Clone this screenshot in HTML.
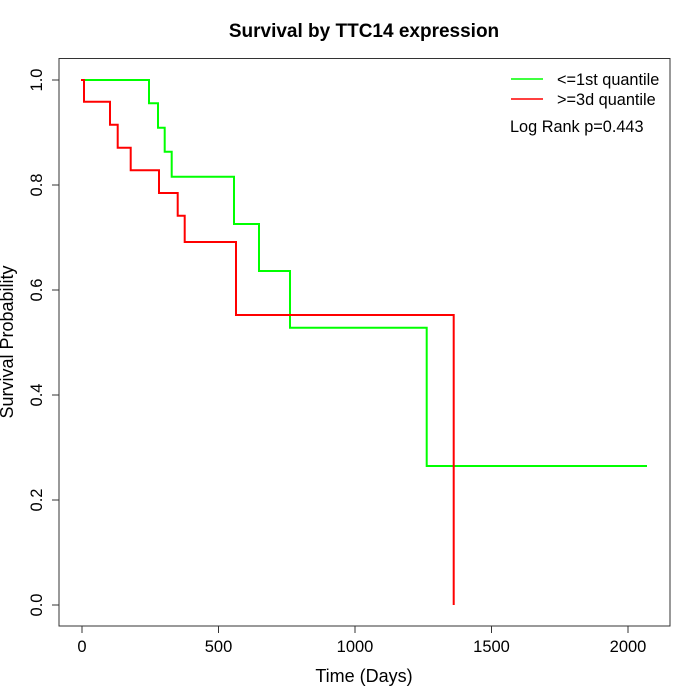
<!DOCTYPE html>
<html><head><meta charset="utf-8"><style>body{margin:0;background:#fff}svg{display:block}</style></head><body>
<svg width="700" height="700" xmlns="http://www.w3.org/2000/svg" font-family="Liberation Sans, sans-serif">
<rect width="700" height="700" fill="#fff"/>
<text x="364" y="37" font-size="19" font-weight="bold" text-anchor="middle">Survival by TTC14 expression</text>
<rect x="59" y="58.5" width="611" height="567.5" fill="none" stroke="#333" stroke-width="1"/>
<g stroke="#333" stroke-width="1">
<line x1="82" y1="626" x2="628" y2="626"/>
<line x1="82" y1="626" x2="82" y2="633"/><line x1="218.5" y1="626" x2="218.5" y2="633"/><line x1="355" y1="626" x2="355" y2="633"/><line x1="491.5" y1="626" x2="491.5" y2="633"/><line x1="628" y1="626" x2="628" y2="633"/>
<line x1="59" y1="80" x2="59" y2="605"/>
<line x1="52" y1="80" x2="59" y2="80"/><line x1="52" y1="185" x2="59" y2="185"/><line x1="52" y1="290" x2="59" y2="290"/><line x1="52" y1="395" x2="59" y2="395"/><line x1="52" y1="500" x2="59" y2="500"/><line x1="52" y1="605" x2="59" y2="605"/>
</g>
<g font-size="16.5" text-anchor="middle">
<text x="82" y="652">0</text><text x="218.5" y="652">500</text><text x="355" y="652">1000</text><text x="491.5" y="652">1500</text><text x="628" y="652">2000</text>
</g>
<text x="364" y="682" font-size="18" text-anchor="middle">Time (Days)</text>
<g font-size="16.5" text-anchor="middle">
<text transform="translate(42,80) rotate(-90)">1.0</text>
<text transform="translate(42,185) rotate(-90)">0.8</text>
<text transform="translate(42,290) rotate(-90)">0.6</text>
<text transform="translate(42,395) rotate(-90)">0.4</text>
<text transform="translate(42,500) rotate(-90)">0.2</text>
<text transform="translate(42,605) rotate(-90)">0.0</text>
</g>
<text transform="translate(13,342) rotate(-90)" font-size="18" text-anchor="middle">Survival Probability</text>
<polyline fill="none" stroke="#00ff00" stroke-width="2" points="82,80 149,80 149,103.3 158,103.3 158,127.7 164.7,127.7 164.7,151.7 171.7,151.7 171.7,176.7 234,176.7 234,224 259,224 259,271 290,271 290,327.7 426.7,327.7 426.7,466 647,466"/>
<polyline fill="none" stroke="#ff0000" stroke-width="2" points="81,80 84,80 84,101.7 110,101.7 110,124.7 117.7,124.7 117.7,147.7 130.7,147.7 130.7,170.3 159,170.3 159,193 177.7,193 177.7,215.7 184.7,215.7 184.7,242 236,242 236,315 453.7,315 453.7,605"/>
<line x1="511" y1="79" x2="543" y2="79" stroke="#00ff00" stroke-width="1.5"/>
<line x1="511" y1="99" x2="543" y2="99" stroke="#ff0000" stroke-width="1.5"/>
<g font-size="16.3">
<text x="557" y="85">&lt;=1st quantile</text>
<text x="557" y="105">&gt;=3d quantile</text>
<text x="510" y="132">Log Rank p=0.443</text>
</g>
</svg>
</body></html>
